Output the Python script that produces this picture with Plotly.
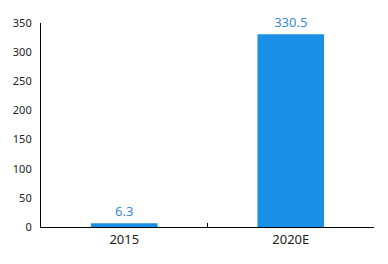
import plotly.graph_objects as go

categories = ["2015", "2020E"]
values = [6.3, 330.5]
value_labels = ["6.3", "330.5"]
y_ticks = [0, 50, 100, 150, 200, 250, 300, 350]

fig = go.Figure()
fig.add_trace(go.Bar(
    x=categories, y=values, width=0.4,
    marker=dict(color="#1a8fe6", line=dict(width=0)),
    text=value_labels, textposition="outside", cliponaxis=False,
    textfont=dict(color="#3a8ad4", size=13, family="Noto Sans"),
))
fig.update_layout(
    width=388, height=264,
    margin=dict(l=41, r=14, t=23, b=37),
    paper_bgcolor="white", plot_bgcolor="white",
    showlegend=False,
    font=dict(family="Noto Sans", color="#222222"),
    xaxis=dict(
        showline=True, linecolor="black", linewidth=1.2,
        ticks="inside", tickson="boundaries", ticklen=4, tickcolor="black",
        tickfont=dict(size=13, color="#222222"),
        showgrid=False,
    ),
    yaxis=dict(
        range=[0, 350], tickvals=y_ticks,
        showline=True, linecolor="black", linewidth=1.2,
        showgrid=False, zeroline=False,
        ticks="", ticklabelstandoff=6,
        tickfont=dict(size=11, color="#222222"),
    ),
)
fig.write_html("out.html")
